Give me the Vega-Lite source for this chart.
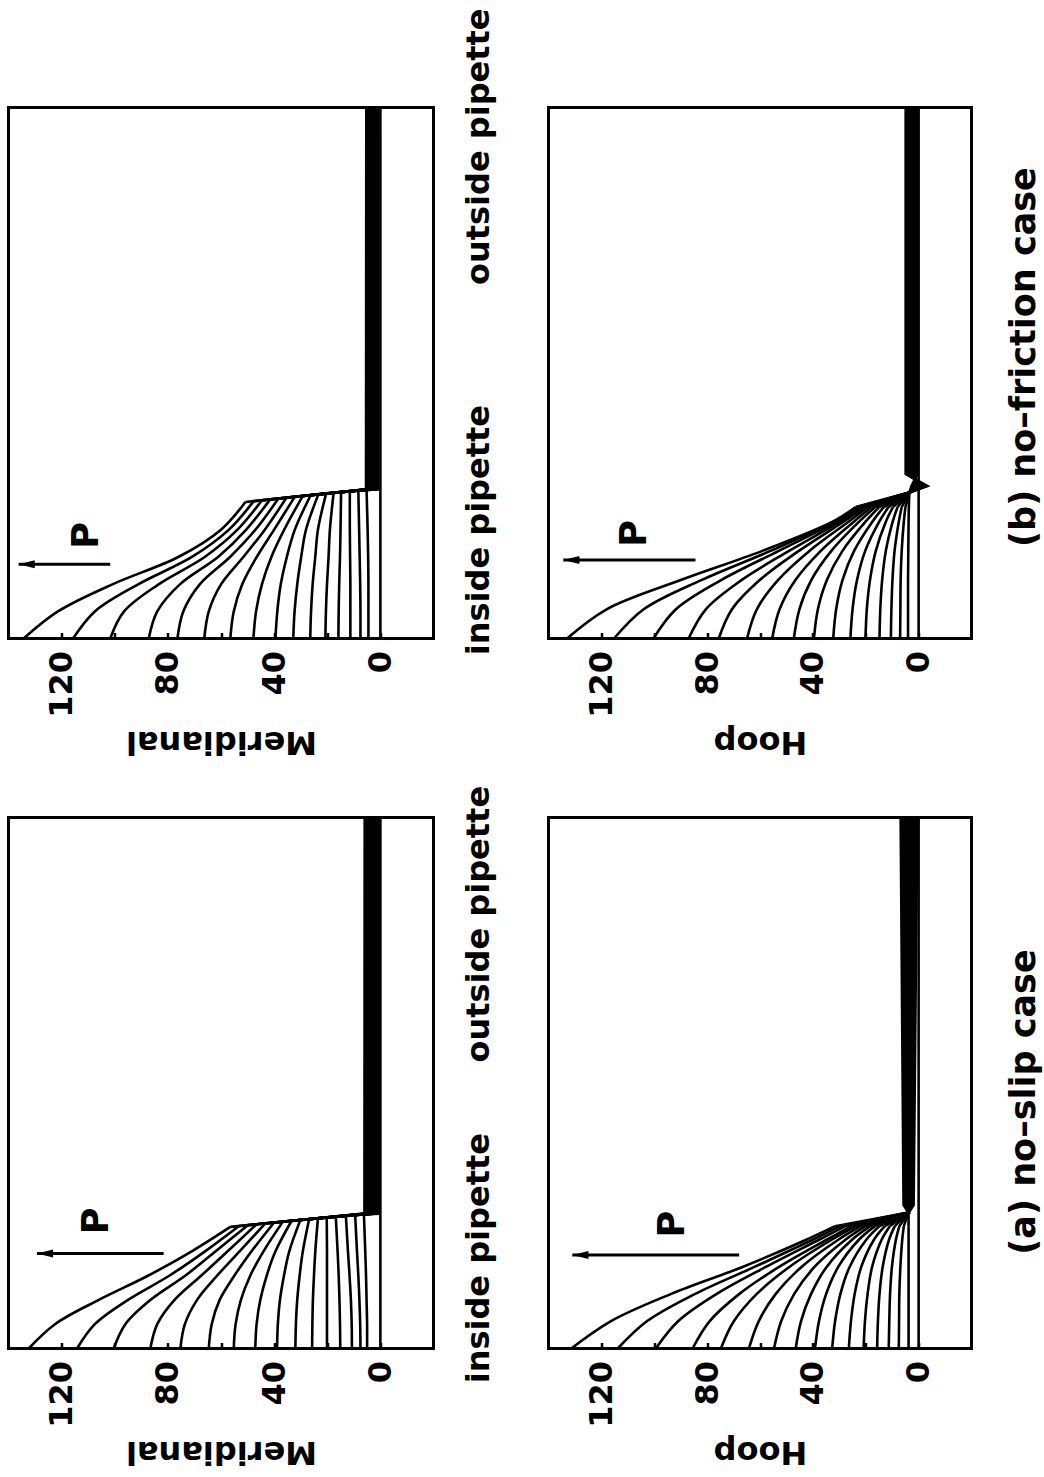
{
  "$schema": "https://vega.github.io/schema/vega-lite/v6.json",
  "background": "white",
  "padding": {"left": 6.5, "top": 5.5, "right": 4, "bottom": 4},
  "config": {
    "font": "DejaVu Sans",
    "view": {"stroke": "black", "strokeWidth": 3},
    "axis": {"grid": false, "domain": false, "labelFont": "DejaVu Sans", "labelFontWeight": "bold", "labelFontSize": 32, "labelColor": "black", "labelLimit": 0, "titleFont": "DejaVu Sans", "titleFontWeight": "bold", "titleColor": "black", "titleLimit": 0, "labelFlush": false, "labelOverlap": false, "tickColor": "black"},
    "axisX": {"ticks": true, "tickSize": -6, "tickWidth": 2.5, "labelAngle": 270, "labelAlign": "right", "labelBaseline": "middle", "labelPadding": 18, "titleAngle": 180, "titleBaseline": "alphabetic", "titleAlign": "center", "titleFontSize": 32},
    "axisY": {"ticks": false, "labelAngle": 270, "labelAlign": "center", "labelBaseline": "top", "labelPadding": 30, "labelFontSize": 32, "titleAngle": 270, "titleAlign": "center", "titleBaseline": "top", "titleFontSize": 35}
  },
  "datasets": {
    "arrows": [
      {"p": "bM", "v": 101.7, "v2": 136.2, "s": 0.14},
      {"p": "bH", "v": 84.4, "v2": 134.4, "s": 0.148},
      {"p": "aM", "v": 81.6, "v2": 129.3, "s": 0.179},
      {"p": "aH", "v": 67.9, "v2": 131, "s": 0.176}
    ],
    "marks": [
      {"p": "bM", "v": 110.3, "s": 0.194, "t": "P"},
      {"p": "bH", "v": 107.2, "s": 0.198, "t": "P"},
      {"p": "aM", "v": 106.7, "s": 0.24, "t": "P"},
      {"p": "aH", "v": 92.8, "s": 0.234, "t": "P"}
    ],
    "curves": [
      {"p":"bM","c":0,"g":"o","s":0,"v":0},{"p":"bM","c":0,"g":"o","s":1,"v":0},
      {"p":"bM","c":1,"g":"i","s":0,"v":134.3},{"p":"bM","c":1,"g":"i","s":0.051,"v":121.4},{"p":"bM","c":1,"g":"i","s":0.102,"v":100.9},{"p":"bM","c":1,"g":"i","s":0.154,"v":75.9},{"p":"bM","c":1,"g":"i","s":0.205,"v":60},{"p":"bM","c":1,"g":"i","s":0.257,"v":50.8},
      {"p":"bM","c":1,"g":"o","s":0.257,"v":50.8},{"p":"bM","c":1,"g":"o","s":0.281,"v":5.4},{"p":"bM","c":1,"g":"o","s":1,"v":5.3},
      {"p":"bM","c":2,"g":"i","s":0,"v":115.7},{"p":"bM","c":2,"g":"i","s":0.051,"v":107.5},{"p":"bM","c":2,"g":"i","s":0.102,"v":91.2},{"p":"bM","c":2,"g":"i","s":0.154,"v":70.8},{"p":"bM","c":2,"g":"i","s":0.205,"v":57},{"p":"bM","c":2,"g":"i","s":0.2587,"v":47.7},
      {"p":"bM","c":2,"g":"o","s":0.2587,"v":47.7},{"p":"bM","c":2,"g":"o","s":0.281,"v":5.1},{"p":"bM","c":2,"g":"o","s":1,"v":5},
      {"p":"bM","c":3,"g":"i","s":0,"v":101.7},{"p":"bM","c":3,"g":"i","s":0.051,"v":96.5},{"p":"bM","c":3,"g":"i","s":0.102,"v":83.5},{"p":"bM","c":3,"g":"i","s":0.154,"v":66},{"p":"bM","c":3,"g":"i","s":0.205,"v":53.8},{"p":"bM","c":3,"g":"i","s":0.2604,"v":44.6},
      {"p":"bM","c":3,"g":"o","s":0.2604,"v":44.6},{"p":"bM","c":3,"g":"o","s":0.281,"v":4.8},{"p":"bM","c":3,"g":"o","s":1,"v":4.7},
      {"p":"bM","c":4,"g":"i","s":0,"v":87.2},{"p":"bM","c":4,"g":"i","s":0.051,"v":84},{"p":"bM","c":4,"g":"i","s":0.102,"v":75.5},{"p":"bM","c":4,"g":"i","s":0.154,"v":61},{"p":"bM","c":4,"g":"i","s":0.205,"v":50.5},{"p":"bM","c":4,"g":"i","s":0.262,"v":41.5},
      {"p":"bM","c":4,"g":"o","s":0.262,"v":41.5},{"p":"bM","c":4,"g":"o","s":0.281,"v":4.5},{"p":"bM","c":4,"g":"o","s":1,"v":4.4},
      {"p":"bM","c":5,"g":"i","s":0,"v":76.4},{"p":"bM","c":5,"g":"i","s":0.051,"v":74.2},{"p":"bM","c":5,"g":"i","s":0.102,"v":68},{"p":"bM","c":5,"g":"i","s":0.154,"v":56.5},{"p":"bM","c":5,"g":"i","s":0.205,"v":47},{"p":"bM","c":5,"g":"i","s":0.2637,"v":38.4},
      {"p":"bM","c":5,"g":"o","s":0.2637,"v":38.4},{"p":"bM","c":5,"g":"o","s":0.281,"v":4.2},{"p":"bM","c":5,"g":"o","s":1,"v":4.1},
      {"p":"bM","c":6,"g":"i","s":0,"v":66.3},{"p":"bM","c":6,"g":"i","s":0.051,"v":64.6},{"p":"bM","c":6,"g":"i","s":0.102,"v":60},{"p":"bM","c":6,"g":"i","s":0.154,"v":51.5},{"p":"bM","c":6,"g":"i","s":0.205,"v":43.5},{"p":"bM","c":6,"g":"i","s":0.2654,"v":35.3},
      {"p":"bM","c":6,"g":"o","s":0.2654,"v":35.3},{"p":"bM","c":6,"g":"o","s":0.281,"v":3.9},{"p":"bM","c":6,"g":"o","s":1,"v":3.8},
      {"p":"bM","c":7,"g":"i","s":0,"v":56.5},{"p":"bM","c":7,"g":"i","s":0.051,"v":55.2},{"p":"bM","c":7,"g":"i","s":0.102,"v":52},{"p":"bM","c":7,"g":"i","s":0.154,"v":46.5},{"p":"bM","c":7,"g":"i","s":0.205,"v":40},{"p":"bM","c":7,"g":"i","s":0.2671,"v":32.2},
      {"p":"bM","c":7,"g":"o","s":0.2671,"v":32.2},{"p":"bM","c":7,"g":"o","s":0.281,"v":3.6},{"p":"bM","c":7,"g":"o","s":1,"v":3.5},
      {"p":"bM","c":8,"g":"i","s":0,"v":47.8},{"p":"bM","c":8,"g":"i","s":0.051,"v":46.8},{"p":"bM","c":8,"g":"i","s":0.102,"v":44.6},{"p":"bM","c":8,"g":"i","s":0.154,"v":41},{"p":"bM","c":8,"g":"i","s":0.205,"v":36.2},{"p":"bM","c":8,"g":"i","s":0.2687,"v":29.2},
      {"p":"bM","c":8,"g":"o","s":0.2687,"v":29.2},{"p":"bM","c":8,"g":"o","s":0.281,"v":3.3},{"p":"bM","c":8,"g":"o","s":1,"v":3.2},
      {"p":"bM","c":9,"g":"i","s":0,"v":39.5},{"p":"bM","c":9,"g":"i","s":0.051,"v":38.8},{"p":"bM","c":9,"g":"i","s":0.102,"v":37.5},{"p":"bM","c":9,"g":"i","s":0.154,"v":35.2},{"p":"bM","c":9,"g":"i","s":0.205,"v":32.2},{"p":"bM","c":9,"g":"i","s":0.2703,"v":26.2},
      {"p":"bM","c":9,"g":"o","s":0.2703,"v":26.2},{"p":"bM","c":9,"g":"o","s":0.281,"v":3},{"p":"bM","c":9,"g":"o","s":1,"v":2.9},
      {"p":"bM","c":10,"g":"i","s":0,"v":32.8},{"p":"bM","c":10,"g":"i","s":0.051,"v":32.3},{"p":"bM","c":10,"g":"i","s":0.102,"v":31.3},{"p":"bM","c":10,"g":"i","s":0.154,"v":29.8},{"p":"bM","c":10,"g":"i","s":0.205,"v":28},{"p":"bM","c":10,"g":"i","s":0.2719,"v":23.3},
      {"p":"bM","c":10,"g":"o","s":0.2719,"v":23.3},{"p":"bM","c":10,"g":"o","s":0.281,"v":2.7},{"p":"bM","c":10,"g":"o","s":1,"v":2.6},
      {"p":"bM","c":11,"g":"i","s":0,"v":26.4},{"p":"bM","c":11,"g":"i","s":0.051,"v":26.1},{"p":"bM","c":11,"g":"i","s":0.102,"v":25.5},{"p":"bM","c":11,"g":"i","s":0.154,"v":24.5},{"p":"bM","c":11,"g":"i","s":0.205,"v":23.5},{"p":"bM","c":11,"g":"i","s":0.2734,"v":20.4},
      {"p":"bM","c":11,"g":"o","s":0.2734,"v":20.4},{"p":"bM","c":11,"g":"o","s":0.281,"v":2.4},{"p":"bM","c":11,"g":"o","s":1,"v":2.3},
      {"p":"bM","c":12,"g":"i","s":0,"v":20.7},{"p":"bM","c":12,"g":"i","s":0.051,"v":20.5},{"p":"bM","c":12,"g":"i","s":0.102,"v":20.1},{"p":"bM","c":12,"g":"i","s":0.154,"v":19.5},{"p":"bM","c":12,"g":"i","s":0.205,"v":19},{"p":"bM","c":12,"g":"i","s":0.2749,"v":17.6},
      {"p":"bM","c":12,"g":"o","s":0.2749,"v":17.6},{"p":"bM","c":12,"g":"o","s":0.281,"v":2.1},{"p":"bM","c":12,"g":"o","s":1,"v":2},
      {"p":"bM","c":13,"g":"i","s":0,"v":15.8},{"p":"bM","c":13,"g":"i","s":0.051,"v":15.7},{"p":"bM","c":13,"g":"i","s":0.102,"v":15.5},{"p":"bM","c":13,"g":"i","s":0.154,"v":15.2},{"p":"bM","c":13,"g":"i","s":0.205,"v":15},{"p":"bM","c":13,"g":"i","s":0.2765,"v":14.8},
      {"p":"bM","c":13,"g":"o","s":0.2765,"v":14.8},{"p":"bM","c":13,"g":"o","s":0.281,"v":1.8},{"p":"bM","c":13,"g":"o","s":1,"v":1.7},
      {"p":"bM","c":14,"g":"i","s":0,"v":11.3},{"p":"bM","c":14,"g":"i","s":0.051,"v":11.3},{"p":"bM","c":14,"g":"i","s":0.102,"v":11.3},{"p":"bM","c":14,"g":"i","s":0.154,"v":11.4},{"p":"bM","c":14,"g":"i","s":0.205,"v":11.5},{"p":"bM","c":14,"g":"i","s":0.2782,"v":11.5},
      {"p":"bM","c":14,"g":"o","s":0.2782,"v":11.5},{"p":"bM","c":14,"g":"o","s":0.281,"v":1.5},{"p":"bM","c":14,"g":"o","s":1,"v":1.4},
      {"p":"bM","c":15,"g":"i","s":0,"v":7.5},{"p":"bM","c":15,"g":"i","s":0.051,"v":7.5},{"p":"bM","c":15,"g":"i","s":0.102,"v":7.6},{"p":"bM","c":15,"g":"i","s":0.154,"v":7.8},{"p":"bM","c":15,"g":"i","s":0.205,"v":8},{"p":"bM","c":15,"g":"i","s":0.2795,"v":8.3},
      {"p":"bM","c":15,"g":"o","s":0.2795,"v":8.3},{"p":"bM","c":15,"g":"o","s":0.281,"v":1.2},{"p":"bM","c":15,"g":"o","s":1,"v":1.1},
      {"p":"bM","c":16,"g":"i","s":0,"v":4.5},{"p":"bM","c":16,"g":"i","s":0.051,"v":4.5},{"p":"bM","c":16,"g":"i","s":0.102,"v":4.5},{"p":"bM","c":16,"g":"i","s":0.154,"v":4.6},{"p":"bM","c":16,"g":"i","s":0.205,"v":4.8},{"p":"bM","c":16,"g":"i","s":0.2795,"v":5.2},
      {"p":"bM","c":16,"g":"o","s":0.2795,"v":5.2},{"p":"bM","c":16,"g":"o","s":0.281,"v":0.9},{"p":"bM","c":16,"g":"o","s":1,"v":0.8},

      {"p":"bH","c":0,"g":"o","s":0,"v":0},{"p":"bH","c":0,"g":"o","s":1,"v":0},
      {"p":"bH","c":1,"g":"i","s":0,"v":133},{"p":"bH","c":1,"g":"i","s":0.055,"v":118},{"p":"bH","c":1,"g":"i","s":0.11,"v":90},{"p":"bH","c":1,"g":"i","s":0.165,"v":59.1},{"p":"bH","c":1,"g":"i","s":0.22,"v":32.5},{"p":"bH","c":1,"g":"i","s":0.2475,"v":23.8},
      {"p":"bH","c":1,"g":"o","s":0.2475,"v":23.8},{"p":"bH","c":1,"g":"o","s":0.275,"v":3.5},{"p":"bH","c":1,"g":"o","s":0.287,"v":-3.3},{"p":"bH","c":1,"g":"o","s":0.31,"v":4.9},{"p":"bH","c":1,"g":"o","s":1,"v":4.9},
      {"p":"bH","c":2,"g":"i","s":0,"v":115.2},{"p":"bH","c":2,"g":"i","s":0.055,"v":104},{"p":"bH","c":2,"g":"i","s":0.11,"v":82.2},{"p":"bH","c":2,"g":"i","s":0.165,"v":56},{"p":"bH","c":2,"g":"i","s":0.22,"v":32},{"p":"bH","c":2,"g":"i","s":0.2475,"v":23},
      {"p":"bH","c":2,"g":"o","s":0.2475,"v":23},{"p":"bH","c":2,"g":"o","s":0.275,"v":3.5},{"p":"bH","c":2,"g":"o","s":0.287,"v":-2.9},{"p":"bH","c":2,"g":"o","s":0.31,"v":4.6},{"p":"bH","c":2,"g":"o","s":1,"v":4.6},
      {"p":"bH","c":3,"g":"i","s":0,"v":100.3},{"p":"bH","c":3,"g":"i","s":0.055,"v":91.8},{"p":"bH","c":3,"g":"i","s":0.11,"v":74.7},{"p":"bH","c":3,"g":"i","s":0.165,"v":52.9},{"p":"bH","c":3,"g":"i","s":0.22,"v":31.1},{"p":"bH","c":3,"g":"i","s":0.2475,"v":22.4},
      {"p":"bH","c":3,"g":"o","s":0.2475,"v":22.4},{"p":"bH","c":3,"g":"o","s":0.275,"v":3.5},{"p":"bH","c":3,"g":"o","s":0.287,"v":-2.5},{"p":"bH","c":3,"g":"o","s":0.31,"v":4.3},{"p":"bH","c":3,"g":"o","s":1,"v":4.3},
      {"p":"bH","c":4,"g":"i","s":0,"v":87},{"p":"bH","c":4,"g":"i","s":0.055,"v":80.5},{"p":"bH","c":4,"g":"i","s":0.11,"v":67},{"p":"bH","c":4,"g":"i","s":0.165,"v":49},{"p":"bH","c":4,"g":"i","s":0.22,"v":29.8},{"p":"bH","c":4,"g":"i","s":0.2475,"v":21.5},
      {"p":"bH","c":4,"g":"o","s":0.2475,"v":21.5},{"p":"bH","c":4,"g":"o","s":0.275,"v":3.5},{"p":"bH","c":4,"g":"o","s":0.287,"v":-2.1},{"p":"bH","c":4,"g":"o","s":0.31,"v":4},{"p":"bH","c":4,"g":"o","s":1,"v":4},
      {"p":"bH","c":5,"g":"i","s":0,"v":75.6},{"p":"bH","c":5,"g":"i","s":0.055,"v":70.6},{"p":"bH","c":5,"g":"i","s":0.11,"v":60.1},{"p":"bH","c":5,"g":"i","s":0.165,"v":45.3},{"p":"bH","c":5,"g":"i","s":0.22,"v":28.4},{"p":"bH","c":5,"g":"i","s":0.2475,"v":20.4},
      {"p":"bH","c":5,"g":"o","s":0.2475,"v":20.4},{"p":"bH","c":5,"g":"o","s":0.275,"v":3.5},{"p":"bH","c":5,"g":"o","s":0.287,"v":-1.7},{"p":"bH","c":5,"g":"o","s":0.31,"v":3.7},{"p":"bH","c":5,"g":"o","s":1,"v":3.7},
      {"p":"bH","c":6,"g":"i","s":0,"v":64.9},{"p":"bH","c":6,"g":"i","s":0.055,"v":61.2},{"p":"bH","c":6,"g":"i","s":0.11,"v":53.2},{"p":"bH","c":6,"g":"i","s":0.165,"v":41.3},{"p":"bH","c":6,"g":"i","s":0.22,"v":26.5},{"p":"bH","c":6,"g":"i","s":0.2475,"v":19.2},
      {"p":"bH","c":6,"g":"o","s":0.2475,"v":19.2},{"p":"bH","c":6,"g":"o","s":0.275,"v":3.5},{"p":"bH","c":6,"g":"o","s":0.287,"v":-1.3},{"p":"bH","c":6,"g":"o","s":0.31,"v":3.4},{"p":"bH","c":6,"g":"o","s":1,"v":3.4},
      {"p":"bH","c":7,"g":"i","s":0,"v":55.4},{"p":"bH","c":7,"g":"i","s":0.055,"v":52.6},{"p":"bH","c":7,"g":"i","s":0.11,"v":46.6},{"p":"bH","c":7,"g":"i","s":0.165,"v":37},{"p":"bH","c":7,"g":"i","s":0.22,"v":24.5},{"p":"bH","c":7,"g":"i","s":0.2475,"v":17.8},
      {"p":"bH","c":7,"g":"o","s":0.2475,"v":17.8},{"p":"bH","c":7,"g":"o","s":0.275,"v":3.5},{"p":"bH","c":7,"g":"o","s":0.287,"v":-0.9},{"p":"bH","c":7,"g":"o","s":0.31,"v":3.1},{"p":"bH","c":7,"g":"o","s":1,"v":3.1},
      {"p":"bH","c":8,"g":"i","s":0,"v":47.2},{"p":"bH","c":8,"g":"i","s":0.055,"v":45.1},{"p":"bH","c":8,"g":"i","s":0.11,"v":40.6},{"p":"bH","c":8,"g":"i","s":0.165,"v":33},{"p":"bH","c":8,"g":"i","s":0.22,"v":22.5},{"p":"bH","c":8,"g":"i","s":0.2475,"v":16.4},
      {"p":"bH","c":8,"g":"o","s":0.2475,"v":16.4},{"p":"bH","c":8,"g":"o","s":0.275,"v":3.5},{"p":"bH","c":8,"g":"o","s":0.287,"v":-0.5},{"p":"bH","c":8,"g":"o","s":0.31,"v":2.8},{"p":"bH","c":8,"g":"o","s":1,"v":2.8},
      {"p":"bH","c":9,"g":"i","s":0,"v":39.6},{"p":"bH","c":9,"g":"i","s":0.055,"v":38.1},{"p":"bH","c":9,"g":"i","s":0.11,"v":34.7},{"p":"bH","c":9,"g":"i","s":0.165,"v":28.8},{"p":"bH","c":9,"g":"i","s":0.22,"v":20.1},{"p":"bH","c":9,"g":"i","s":0.2475,"v":14.9},
      {"p":"bH","c":9,"g":"o","s":0.2475,"v":14.9},{"p":"bH","c":9,"g":"o","s":0.275,"v":3.5},{"p":"bH","c":9,"g":"o","s":0.287,"v":-0.1},{"p":"bH","c":9,"g":"o","s":0.31,"v":2.5},{"p":"bH","c":9,"g":"o","s":1,"v":2.5},
      {"p":"bH","c":10,"g":"i","s":0,"v":32.3},{"p":"bH","c":10,"g":"i","s":0.055,"v":31.2},{"p":"bH","c":10,"g":"i","s":0.11,"v":28.8},{"p":"bH","c":10,"g":"i","s":0.165,"v":24.4},{"p":"bH","c":10,"g":"i","s":0.22,"v":17.5},{"p":"bH","c":10,"g":"i","s":0.2475,"v":13.2},
      {"p":"bH","c":10,"g":"o","s":0.2475,"v":13.2},{"p":"bH","c":10,"g":"o","s":0.275,"v":3.5},{"p":"bH","c":10,"g":"o","s":0.287,"v":0.3},{"p":"bH","c":10,"g":"o","s":0.31,"v":2.2},{"p":"bH","c":10,"g":"o","s":1,"v":2.2},
      {"p":"bH","c":11,"g":"i","s":0,"v":25.8},{"p":"bH","c":11,"g":"i","s":0.055,"v":25},{"p":"bH","c":11,"g":"i","s":0.11,"v":23.3},{"p":"bH","c":11,"g":"i","s":0.165,"v":20.2},{"p":"bH","c":11,"g":"i","s":0.22,"v":14.9},{"p":"bH","c":11,"g":"i","s":0.2475,"v":11.4},
      {"p":"bH","c":11,"g":"o","s":0.2475,"v":11.4},{"p":"bH","c":11,"g":"o","s":0.275,"v":3.5},{"p":"bH","c":11,"g":"o","s":0.287,"v":0.7},{"p":"bH","c":11,"g":"o","s":0.31,"v":1.9},{"p":"bH","c":11,"g":"o","s":1,"v":1.9},
      {"p":"bH","c":12,"g":"i","s":0,"v":20.1},{"p":"bH","c":12,"g":"i","s":0.055,"v":19.6},{"p":"bH","c":12,"g":"i","s":0.11,"v":18.4},{"p":"bH","c":12,"g":"i","s":0.165,"v":16.2},{"p":"bH","c":12,"g":"i","s":0.22,"v":12.4},{"p":"bH","c":12,"g":"i","s":0.2475,"v":9.7},
      {"p":"bH","c":12,"g":"o","s":0.2475,"v":9.7},{"p":"bH","c":12,"g":"o","s":0.275,"v":3.5},{"p":"bH","c":12,"g":"o","s":0.287,"v":1.1},{"p":"bH","c":12,"g":"o","s":0.31,"v":1.6},{"p":"bH","c":12,"g":"o","s":1,"v":1.6},
      {"p":"bH","c":13,"g":"i","s":0,"v":14.8},{"p":"bH","c":13,"g":"i","s":0.055,"v":14.5},{"p":"bH","c":13,"g":"i","s":0.11,"v":13.8},{"p":"bH","c":13,"g":"i","s":0.165,"v":12.4},{"p":"bH","c":13,"g":"i","s":0.22,"v":9.8},{"p":"bH","c":13,"g":"i","s":0.2475,"v":8},
      {"p":"bH","c":13,"g":"o","s":0.2475,"v":8},{"p":"bH","c":13,"g":"o","s":0.275,"v":3.5},{"p":"bH","c":13,"g":"o","s":0.287,"v":1.5},{"p":"bH","c":13,"g":"o","s":0.31,"v":1.3},{"p":"bH","c":13,"g":"o","s":1,"v":1.3},
      {"p":"bH","c":14,"g":"i","s":0,"v":10.5},{"p":"bH","c":14,"g":"i","s":0.055,"v":10.3},{"p":"bH","c":14,"g":"i","s":0.11,"v":9.9},{"p":"bH","c":14,"g":"i","s":0.165,"v":9.1},{"p":"bH","c":14,"g":"i","s":0.22,"v":7.5},{"p":"bH","c":14,"g":"i","s":0.2475,"v":6.4},
      {"p":"bH","c":14,"g":"o","s":0.2475,"v":6.4},{"p":"bH","c":14,"g":"o","s":0.275,"v":3.5},{"p":"bH","c":14,"g":"o","s":0.287,"v":1.9},{"p":"bH","c":14,"g":"o","s":0.31,"v":1},{"p":"bH","c":14,"g":"o","s":1,"v":1},
      {"p":"bH","c":15,"g":"i","s":0,"v":7},{"p":"bH","c":15,"g":"i","s":0.055,"v":6.9},{"p":"bH","c":15,"g":"i","s":0.11,"v":6.8},{"p":"bH","c":15,"g":"i","s":0.165,"v":6.4},{"p":"bH","c":15,"g":"i","s":0.22,"v":5.6},{"p":"bH","c":15,"g":"i","s":0.2475,"v":5},
      {"p":"bH","c":15,"g":"o","s":0.2475,"v":5},{"p":"bH","c":15,"g":"o","s":0.275,"v":3.5},{"p":"bH","c":15,"g":"o","s":0.287,"v":2.3},{"p":"bH","c":15,"g":"o","s":0.31,"v":0.7},{"p":"bH","c":15,"g":"o","s":1,"v":0.7},
      {"p":"bH","c":16,"g":"i","s":0,"v":4},{"p":"bH","c":16,"g":"i","s":0.055,"v":4},{"p":"bH","c":16,"g":"i","s":0.11,"v":4},{"p":"bH","c":16,"g":"i","s":0.165,"v":3.9},{"p":"bH","c":16,"g":"i","s":0.22,"v":3.8},{"p":"bH","c":16,"g":"i","s":0.2475,"v":3.7},
      {"p":"bH","c":16,"g":"o","s":0.2475,"v":3.7},{"p":"bH","c":16,"g":"o","s":0.275,"v":3.5},{"p":"bH","c":16,"g":"o","s":0.287,"v":2.7},{"p":"bH","c":16,"g":"o","s":0.31,"v":0.4},{"p":"bH","c":16,"g":"o","s":1,"v":0.4},

      {"p":"aM","c":0,"g":"o","s":0,"v":0},{"p":"aM","c":0,"g":"o","s":1,"v":0},
      {"p":"aM","c":1,"g":"i","s":0,"v":132.4},{"p":"aM","c":1,"g":"i","s":0.0458,"v":122.5},{"p":"aM","c":1,"g":"i","s":0.0916,"v":106},{"p":"aM","c":1,"g":"i","s":0.137,"v":87.5},{"p":"aM","c":1,"g":"i","s":0.183,"v":71},{"p":"aM","c":1,"g":"i","s":0.229,"v":56.5},
      {"p":"aM","c":1,"g":"o","s":0.229,"v":56.5},{"p":"aM","c":1,"g":"o","s":0.254,"v":6},{"p":"aM","c":1,"g":"o","s":1,"v":5.9},
      {"p":"aM","c":2,"g":"i","s":0,"v":114.2},{"p":"aM","c":2,"g":"i","s":0.0458,"v":107.5},{"p":"aM","c":2,"g":"i","s":0.0916,"v":95},{"p":"aM","c":2,"g":"i","s":0.137,"v":79.5},{"p":"aM","c":2,"g":"i","s":0.183,"v":66},{"p":"aM","c":2,"g":"i","s":0.2307,"v":53.2},
      {"p":"aM","c":2,"g":"o","s":0.2307,"v":53.2},{"p":"aM","c":2,"g":"o","s":0.254,"v":5.6},{"p":"aM","c":2,"g":"o","s":1,"v":5.5},
      {"p":"aM","c":3,"g":"i","s":0,"v":100.4},{"p":"aM","c":3,"g":"i","s":0.0458,"v":96},{"p":"aM","c":3,"g":"i","s":0.0916,"v":86.5},{"p":"aM","c":3,"g":"i","s":0.137,"v":73.5},{"p":"aM","c":3,"g":"i","s":0.183,"v":62},{"p":"aM","c":3,"g":"i","s":0.2323,"v":49.9},
      {"p":"aM","c":3,"g":"o","s":0.2323,"v":49.9},{"p":"aM","c":3,"g":"o","s":0.254,"v":5.3},{"p":"aM","c":3,"g":"o","s":1,"v":5.2},
      {"p":"aM","c":4,"g":"i","s":0,"v":86.6},{"p":"aM","c":4,"g":"i","s":0.0458,"v":84},{"p":"aM","c":4,"g":"i","s":0.0916,"v":77.5},{"p":"aM","c":4,"g":"i","s":0.137,"v":67.5},{"p":"aM","c":4,"g":"i","s":0.183,"v":57.5},{"p":"aM","c":4,"g":"i","s":0.234,"v":46.6},
      {"p":"aM","c":4,"g":"o","s":0.234,"v":46.6},{"p":"aM","c":4,"g":"o","s":0.254,"v":4.9},{"p":"aM","c":4,"g":"o","s":1,"v":4.8},
      {"p":"aM","c":5,"g":"i","s":0,"v":75.3},{"p":"aM","c":5,"g":"i","s":0.0458,"v":73.6},{"p":"aM","c":5,"g":"i","s":0.0916,"v":69},{"p":"aM","c":5,"g":"i","s":0.137,"v":61.5},{"p":"aM","c":5,"g":"i","s":0.183,"v":53},{"p":"aM","c":5,"g":"i","s":0.2356,"v":43.3},
      {"p":"aM","c":5,"g":"o","s":0.2356,"v":43.3},{"p":"aM","c":5,"g":"o","s":0.254,"v":4.5},{"p":"aM","c":5,"g":"o","s":1,"v":4.4},
      {"p":"aM","c":6,"g":"i","s":0,"v":64.6},{"p":"aM","c":6,"g":"i","s":0.0458,"v":63.5},{"p":"aM","c":6,"g":"i","s":0.0916,"v":60.5},{"p":"aM","c":6,"g":"i","s":0.137,"v":55},{"p":"aM","c":6,"g":"i","s":0.183,"v":48.5},{"p":"aM","c":6,"g":"i","s":0.2373,"v":40},
      {"p":"aM","c":6,"g":"o","s":0.2373,"v":40},{"p":"aM","c":6,"g":"o","s":0.254,"v":4.2},{"p":"aM","c":6,"g":"o","s":1,"v":4.1},
      {"p":"aM","c":7,"g":"i","s":0,"v":55.2},{"p":"aM","c":7,"g":"i","s":0.0458,"v":54.5},{"p":"aM","c":7,"g":"i","s":0.0916,"v":52.5},{"p":"aM","c":7,"g":"i","s":0.137,"v":49},{"p":"aM","c":7,"g":"i","s":0.183,"v":44},{"p":"aM","c":7,"g":"i","s":0.2389,"v":36.7},
      {"p":"aM","c":7,"g":"o","s":0.2389,"v":36.7},{"p":"aM","c":7,"g":"o","s":0.254,"v":3.8},{"p":"aM","c":7,"g":"o","s":1,"v":3.7},
      {"p":"aM","c":8,"g":"i","s":0,"v":47.1},{"p":"aM","c":8,"g":"i","s":0.0458,"v":46.6},{"p":"aM","c":8,"g":"i","s":0.0916,"v":45.2},{"p":"aM","c":8,"g":"i","s":0.137,"v":42.8},{"p":"aM","c":8,"g":"i","s":0.183,"v":39.5},{"p":"aM","c":8,"g":"i","s":0.2406,"v":33.4},
      {"p":"aM","c":8,"g":"o","s":0.2406,"v":33.4},{"p":"aM","c":8,"g":"o","s":0.254,"v":3.4},{"p":"aM","c":8,"g":"o","s":1,"v":3.3},
      {"p":"aM","c":9,"g":"i","s":0,"v":38.9},{"p":"aM","c":9,"g":"i","s":0.0458,"v":38.6},{"p":"aM","c":9,"g":"i","s":0.0916,"v":37.8},{"p":"aM","c":9,"g":"i","s":0.137,"v":36.3},{"p":"aM","c":9,"g":"i","s":0.183,"v":34.3},{"p":"aM","c":9,"g":"i","s":0.2422,"v":30.1},
      {"p":"aM","c":9,"g":"o","s":0.2422,"v":30.1},{"p":"aM","c":9,"g":"o","s":0.254,"v":3},{"p":"aM","c":9,"g":"o","s":1,"v":2.9},
      {"p":"aM","c":10,"g":"i","s":0,"v":32},{"p":"aM","c":10,"g":"i","s":0.0458,"v":31.8},{"p":"aM","c":10,"g":"i","s":0.0916,"v":31.3},{"p":"aM","c":10,"g":"i","s":0.137,"v":30.4},{"p":"aM","c":10,"g":"i","s":0.183,"v":29.2},{"p":"aM","c":10,"g":"i","s":0.2439,"v":26.8},
      {"p":"aM","c":10,"g":"o","s":0.2439,"v":26.8},{"p":"aM","c":10,"g":"o","s":0.254,"v":2.7},{"p":"aM","c":10,"g":"o","s":1,"v":2.6},
      {"p":"aM","c":11,"g":"i","s":0,"v":25.7},{"p":"aM","c":11,"g":"i","s":0.0458,"v":25.6},{"p":"aM","c":11,"g":"i","s":0.0916,"v":25.4},{"p":"aM","c":11,"g":"i","s":0.137,"v":25},{"p":"aM","c":11,"g":"i","s":0.183,"v":24.5},{"p":"aM","c":11,"g":"i","s":0.2455,"v":23.5},
      {"p":"aM","c":11,"g":"o","s":0.2455,"v":23.5},{"p":"aM","c":11,"g":"o","s":0.254,"v":2.3},{"p":"aM","c":11,"g":"o","s":1,"v":2.2},
      {"p":"aM","c":12,"g":"i","s":0,"v":20.1},{"p":"aM","c":12,"g":"i","s":0.0458,"v":20.1},{"p":"aM","c":12,"g":"i","s":0.0916,"v":20.1},{"p":"aM","c":12,"g":"i","s":0.137,"v":20.1},{"p":"aM","c":12,"g":"i","s":0.183,"v":20.1},{"p":"aM","c":12,"g":"i","s":0.2472,"v":20.2},
      {"p":"aM","c":12,"g":"o","s":0.2472,"v":20.2},{"p":"aM","c":12,"g":"o","s":0.254,"v":1.9},{"p":"aM","c":12,"g":"o","s":1,"v":1.8},
      {"p":"aM","c":13,"g":"i","s":0,"v":15.1},{"p":"aM","c":13,"g":"i","s":0.0458,"v":15.2},{"p":"aM","c":13,"g":"i","s":0.0916,"v":15.4},{"p":"aM","c":13,"g":"i","s":0.137,"v":15.7},{"p":"aM","c":13,"g":"i","s":0.183,"v":16.1},{"p":"aM","c":13,"g":"i","s":0.2489,"v":16.8},
      {"p":"aM","c":13,"g":"o","s":0.2489,"v":16.8},{"p":"aM","c":13,"g":"o","s":0.254,"v":1.6},{"p":"aM","c":13,"g":"o","s":1,"v":1.5},
      {"p":"aM","c":14,"g":"i","s":0,"v":10.7},{"p":"aM","c":14,"g":"i","s":0.0458,"v":10.8},{"p":"aM","c":14,"g":"i","s":0.0916,"v":11.1},{"p":"aM","c":14,"g":"i","s":0.137,"v":11.6},{"p":"aM","c":14,"g":"i","s":0.183,"v":12.2},{"p":"aM","c":14,"g":"i","s":0.2508,"v":13},
      {"p":"aM","c":14,"g":"o","s":0.2508,"v":13},{"p":"aM","c":14,"g":"o","s":0.254,"v":1.2},{"p":"aM","c":14,"g":"o","s":1,"v":1.1},
      {"p":"aM","c":15,"g":"i","s":0,"v":7.5},{"p":"aM","c":15,"g":"i","s":0.0458,"v":7.6},{"p":"aM","c":15,"g":"i","s":0.0916,"v":7.9},{"p":"aM","c":15,"g":"i","s":0.137,"v":8.3},{"p":"aM","c":15,"g":"i","s":0.183,"v":8.8},{"p":"aM","c":15,"g":"i","s":0.2525,"v":9.5},
      {"p":"aM","c":15,"g":"o","s":0.2525,"v":9.5},{"p":"aM","c":15,"g":"o","s":0.254,"v":0.8},{"p":"aM","c":15,"g":"o","s":1,"v":0.7},
      {"p":"aM","c":16,"g":"i","s":0,"v":5},{"p":"aM","c":16,"g":"i","s":0.0458,"v":5},{"p":"aM","c":16,"g":"i","s":0.0916,"v":5.2},{"p":"aM","c":16,"g":"i","s":0.137,"v":5.4},{"p":"aM","c":16,"g":"i","s":0.183,"v":5.7},{"p":"aM","c":16,"g":"i","s":0.2535,"v":6.2},
      {"p":"aM","c":16,"g":"o","s":0.2535,"v":6.2},{"p":"aM","c":16,"g":"o","s":0.254,"v":0.5},{"p":"aM","c":16,"g":"o","s":1,"v":0.4},

      {"p":"aH","c":0,"g":"o","s":0,"v":0},{"p":"aH","c":0,"g":"o","s":1,"v":0},
      {"p":"aH","c":1,"g":"i","s":0,"v":131.4},{"p":"aH","c":1,"g":"i","s":0.0512,"v":116.5},{"p":"aH","c":1,"g":"i","s":0.1024,"v":93.8},{"p":"aH","c":1,"g":"i","s":0.1536,"v":66.6},{"p":"aH","c":1,"g":"i","s":0.2048,"v":42.5},{"p":"aH","c":1,"g":"i","s":0.2304,"v":31.6},
      {"p":"aH","c":1,"g":"o","s":0.2304,"v":31.6},{"p":"aH","c":1,"g":"o","s":0.256,"v":3.8},{"p":"aH","c":1,"g":"o","s":0.27,"v":5.7},{"p":"aH","c":1,"g":"o","s":1,"v":6.8},
      {"p":"aH","c":2,"g":"i","s":0,"v":113.8},{"p":"aH","c":2,"g":"i","s":0.0512,"v":102.8},{"p":"aH","c":2,"g":"i","s":0.1024,"v":84.7},{"p":"aH","c":2,"g":"i","s":0.1536,"v":62.1},{"p":"aH","c":2,"g":"i","s":0.2048,"v":40.1},{"p":"aH","c":2,"g":"i","s":0.2304,"v":29.7},
      {"p":"aH","c":2,"g":"o","s":0.2304,"v":29.7},{"p":"aH","c":2,"g":"o","s":0.256,"v":3.8},{"p":"aH","c":2,"g":"o","s":0.27,"v":5.4},{"p":"aH","c":2,"g":"o","s":1,"v":6.4},
      {"p":"aH","c":3,"g":"i","s":0,"v":99.4},{"p":"aH","c":3,"g":"i","s":0.0512,"v":91},{"p":"aH","c":3,"g":"i","s":0.1024,"v":76.5},{"p":"aH","c":3,"g":"i","s":0.1536,"v":57.8},{"p":"aH","c":3,"g":"i","s":0.2048,"v":37.7},{"p":"aH","c":3,"g":"i","s":0.2304,"v":27.7},
      {"p":"aH","c":3,"g":"o","s":0.2304,"v":27.7},{"p":"aH","c":3,"g":"o","s":0.256,"v":3.8},{"p":"aH","c":3,"g":"o","s":0.27,"v":5.2},{"p":"aH","c":3,"g":"o","s":1,"v":6},
      {"p":"aH","c":4,"g":"i","s":0,"v":85.5},{"p":"aH","c":4,"g":"i","s":0.0512,"v":79.1},{"p":"aH","c":4,"g":"i","s":0.1024,"v":67.9},{"p":"aH","c":4,"g":"i","s":0.1536,"v":52.8},{"p":"aH","c":4,"g":"i","s":0.2048,"v":34.8},{"p":"aH","c":4,"g":"i","s":0.2304,"v":25.5},
      {"p":"aH","c":4,"g":"o","s":0.2304,"v":25.5},{"p":"aH","c":4,"g":"o","s":0.256,"v":3.8},{"p":"aH","c":4,"g":"o","s":0.27,"v":4.9},{"p":"aH","c":4,"g":"o","s":1,"v":5.5},
      {"p":"aH","c":5,"g":"i","s":0,"v":74.8},{"p":"aH","c":5,"g":"i","s":0.0512,"v":69.9},{"p":"aH","c":5,"g":"i","s":0.1024,"v":61.3},{"p":"aH","c":5,"g":"i","s":0.1536,"v":48.9},{"p":"aH","c":5,"g":"i","s":0.2048,"v":32.9},{"p":"aH","c":5,"g":"i","s":0.2304,"v":23.7},
      {"p":"aH","c":5,"g":"o","s":0.2304,"v":23.7},{"p":"aH","c":5,"g":"o","s":0.256,"v":3.8},{"p":"aH","c":5,"g":"o","s":0.27,"v":4.7},{"p":"aH","c":5,"g":"o","s":1,"v":5.1},
      {"p":"aH","c":6,"g":"i","s":0,"v":64.2},{"p":"aH","c":6,"g":"i","s":0.0512,"v":60.5},{"p":"aH","c":6,"g":"i","s":0.1024,"v":54.1},{"p":"aH","c":6,"g":"i","s":0.1536,"v":44.3},{"p":"aH","c":6,"g":"i","s":0.2048,"v":30.4},{"p":"aH","c":6,"g":"i","s":0.2304,"v":21.9},
      {"p":"aH","c":6,"g":"o","s":0.2304,"v":21.9},{"p":"aH","c":6,"g":"o","s":0.256,"v":3.8},{"p":"aH","c":6,"g":"o","s":0.27,"v":4.4},{"p":"aH","c":6,"g":"o","s":1,"v":4.7},
      {"p":"aH","c":7,"g":"i","s":0,"v":54.7},{"p":"aH","c":7,"g":"i","s":0.0512,"v":52},{"p":"aH","c":7,"g":"i","s":0.1024,"v":47.1},{"p":"aH","c":7,"g":"i","s":0.1536,"v":39.4},{"p":"aH","c":7,"g":"i","s":0.2048,"v":27.7},{"p":"aH","c":7,"g":"i","s":0.2304,"v":20.1},
      {"p":"aH","c":7,"g":"o","s":0.2304,"v":20.1},{"p":"aH","c":7,"g":"o","s":0.256,"v":3.8},{"p":"aH","c":7,"g":"o","s":0.27,"v":4.2},{"p":"aH","c":7,"g":"o","s":1,"v":4.3},
      {"p":"aH","c":8,"g":"i","s":0,"v":46.5},{"p":"aH","c":8,"g":"i","s":0.0512,"v":44.5},{"p":"aH","c":8,"g":"i","s":0.1024,"v":40.7},{"p":"aH","c":8,"g":"i","s":0.1536,"v":34.8},{"p":"aH","c":8,"g":"i","s":0.2048,"v":25.2},{"p":"aH","c":8,"g":"i","s":0.2304,"v":18.3},
      {"p":"aH","c":8,"g":"o","s":0.2304,"v":18.3},{"p":"aH","c":8,"g":"o","s":0.256,"v":3.8},{"p":"aH","c":8,"g":"o","s":0.27,"v":3.9},{"p":"aH","c":8,"g":"o","s":1,"v":3.9},
      {"p":"aH","c":9,"g":"i","s":0,"v":39.2},{"p":"aH","c":9,"g":"i","s":0.0512,"v":37.7},{"p":"aH","c":9,"g":"i","s":0.1024,"v":35},{"p":"aH","c":9,"g":"i","s":0.1536,"v":30.4},{"p":"aH","c":9,"g":"i","s":0.2048,"v":22.6},{"p":"aH","c":9,"g":"i","s":0.2304,"v":16.5},
      {"p":"aH","c":9,"g":"o","s":0.2304,"v":16.5},{"p":"aH","c":9,"g":"o","s":0.256,"v":3.8},{"p":"aH","c":9,"g":"o","s":0.27,"v":3.7},{"p":"aH","c":9,"g":"o","s":1,"v":3.4},
      {"p":"aH","c":10,"g":"i","s":0,"v":32.7},{"p":"aH","c":10,"g":"i","s":0.0512,"v":31.6},{"p":"aH","c":10,"g":"i","s":0.1024,"v":29.6},{"p":"aH","c":10,"g":"i","s":0.1536,"v":26.1},{"p":"aH","c":10,"g":"i","s":0.2048,"v":19.8},{"p":"aH","c":10,"g":"i","s":0.2304,"v":14.8},
      {"p":"aH","c":10,"g":"o","s":0.2304,"v":14.8},{"p":"aH","c":10,"g":"o","s":0.256,"v":3.8},{"p":"aH","c":10,"g":"o","s":0.27,"v":3.4},{"p":"aH","c":10,"g":"o","s":1,"v":3},
      {"p":"aH","c":11,"g":"i","s":0,"v":26.4},{"p":"aH","c":11,"g":"i","s":0.0512,"v":25.6},{"p":"aH","c":11,"g":"i","s":0.1024,"v":24.2},{"p":"aH","c":11,"g":"i","s":0.1536,"v":21.7},{"p":"aH","c":11,"g":"i","s":0.2048,"v":16.9},{"p":"aH","c":11,"g":"i","s":0.2304,"v":12.8},
      {"p":"aH","c":11,"g":"o","s":0.2304,"v":12.8},{"p":"aH","c":11,"g":"o","s":0.256,"v":3.8},{"p":"aH","c":11,"g":"o","s":0.27,"v":3.2},{"p":"aH","c":11,"g":"o","s":1,"v":2.6},
      {"p":"aH","c":12,"g":"i","s":0,"v":20.8},{"p":"aH","c":12,"g":"i","s":0.0512,"v":20.3},{"p":"aH","c":12,"g":"i","s":0.1024,"v":19.3},{"p":"aH","c":12,"g":"i","s":0.1536,"v":17.6},{"p":"aH","c":12,"g":"i","s":0.2048,"v":14},{"p":"aH","c":12,"g":"i","s":0.2304,"v":10.9},
      {"p":"aH","c":12,"g":"o","s":0.2304,"v":10.9},{"p":"aH","c":12,"g":"o","s":0.256,"v":3.8},{"p":"aH","c":12,"g":"o","s":0.27,"v":2.9},{"p":"aH","c":12,"g":"o","s":1,"v":2.2},
      {"p":"aH","c":13,"g":"i","s":0,"v":15.7},{"p":"aH","c":13,"g":"i","s":0.0512,"v":15.4},{"p":"aH","c":13,"g":"i","s":0.1024,"v":14.8},{"p":"aH","c":13,"g":"i","s":0.1536,"v":13.6},{"p":"aH","c":13,"g":"i","s":0.2048,"v":11.2},{"p":"aH","c":13,"g":"i","s":0.2304,"v":9},
      {"p":"aH","c":13,"g":"o","s":0.2304,"v":9},{"p":"aH","c":13,"g":"o","s":0.256,"v":3.8},{"p":"aH","c":13,"g":"o","s":0.27,"v":2.7},{"p":"aH","c":13,"g":"o","s":1,"v":1.8},
      {"p":"aH","c":14,"g":"i","s":0,"v":11.3},{"p":"aH","c":14,"g":"i","s":0.0512,"v":11.1},{"p":"aH","c":14,"g":"i","s":0.1024,"v":10.8},{"p":"aH","c":14,"g":"i","s":0.1536,"v":10.1},{"p":"aH","c":14,"g":"i","s":0.2048,"v":8.6},{"p":"aH","c":14,"g":"i","s":0.2304,"v":7.3},
      {"p":"aH","c":14,"g":"o","s":0.2304,"v":7.3},{"p":"aH","c":14,"g":"o","s":0.256,"v":3.8},{"p":"aH","c":14,"g":"o","s":0.27,"v":2.4},{"p":"aH","c":14,"g":"o","s":1,"v":1.3},
      {"p":"aH","c":15,"g":"i","s":0,"v":7.5},{"p":"aH","c":15,"g":"i","s":0.0512,"v":7.4},{"p":"aH","c":15,"g":"i","s":0.1024,"v":7.3},{"p":"aH","c":15,"g":"i","s":0.1536,"v":6.9},{"p":"aH","c":15,"g":"i","s":0.2048,"v":6.2},{"p":"aH","c":15,"g":"i","s":0.2304,"v":5.6},
      {"p":"aH","c":15,"g":"o","s":0.2304,"v":5.6},{"p":"aH","c":15,"g":"o","s":0.256,"v":3.8},{"p":"aH","c":15,"g":"o","s":0.27,"v":2.2},{"p":"aH","c":15,"g":"o","s":1,"v":0.9},
      {"p":"aH","c":16,"g":"i","s":0,"v":3.8},{"p":"aH","c":16,"g":"i","s":0.0512,"v":3.8},{"p":"aH","c":16,"g":"i","s":0.1024,"v":3.8},{"p":"aH","c":16,"g":"i","s":0.1536,"v":3.8},{"p":"aH","c":16,"g":"i","s":0.2048,"v":3.8},{"p":"aH","c":16,"g":"i","s":0.2304,"v":3.8},
      {"p":"aH","c":16,"g":"o","s":0.2304,"v":3.8},{"p":"aH","c":16,"g":"o","s":0.256,"v":3.8},{"p":"aH","c":16,"g":"o","s":0.27,"v":1.9},{"p":"aH","c":16,"g":"o","s":1,"v":0.5}
    ]
  },
  "bounds": "flush",
  "columns": 2,
  "spacing": {"row": 179, "column": 115},
  "concat": [
    {
      "width": 425, "height": 531,
      "encoding": {
        "x": {"field": "v", "type": "quantitative", "scale": {"domain": [-20, 140], "reverse": true, "nice": false, "zero": false},
              "axis": {"title": "Meridianal", "titleY": 93, "values": [0, 20, 40, 60, 80, 100, 120], "labelExpr": "datum.value % 40 === 0 ? datum.label : ''"}},
        "y": {"field": "s", "type": "quantitative", "scale": {"domain": [0, 1], "nice": false, "zero": false},
              "axis": {"orient": "right", "title": null, "values": [0.205, 0.927], "labelExpr": "datum.value < 0.5 ? 'inside pipette' : 'outside pipette'"}}
      },
      "layer": [
        {"data": {"name": "curves"}, "transform": [{"filter": "datum.p === 'bM' && datum.g === 'i'"}],
         "mark": {"type": "line", "interpolate": "catmull-rom", "color": "black", "strokeWidth": 2.6},
         "encoding": {"detail": {"field": "c", "type": "nominal"}, "order": {"field": "s", "type": "quantitative"}}},
        {"data": {"name": "curves"}, "transform": [{"filter": "datum.p === 'bM' && datum.g === 'o'"}],
         "mark": {"type": "line", "color": "black", "strokeWidth": 2.6},
         "encoding": {"detail": {"field": "c", "type": "nominal"}, "order": {"field": "s", "type": "quantitative"}}},
        {"data": {"name": "arrows"}, "transform": [{"filter": "datum.p === 'bM'"}],
         "mark": {"type": "rule", "color": "black", "strokeWidth": 3},
         "encoding": {"x2": {"field": "v2"}}},
        {"data": {"name": "arrows"}, "transform": [{"filter": "datum.p === 'bM'"}],
         "mark": {"type": "point", "shape": "M0,0L2,-0.5L2,0.5Z", "filled": true, "color": "black", "size": 260, "opacity": 1},
         "encoding": {"x": {"field": "v2", "type": "quantitative"}}},
        {"data": {"name": "marks"}, "transform": [{"filter": "datum.p === 'bM'"}],
         "mark": {"type": "text", "font": "DejaVu Sans", "fontWeight": "bold", "fontSize": 37, "angle": 270, "align": "center", "baseline": "middle", "color": "black"},
         "encoding": {"text": {"field": "t"}}}
      ]
    },
    {
      "width": 423, "height": 531,
      "encoding": {
        "x": {"field": "v", "type": "quantitative", "scale": {"domain": [-20, 140], "reverse": true, "nice": false, "zero": false},
              "axis": {"title": "Hoop", "titleY": 93, "values": [0, 20, 40, 60, 80, 100, 120], "labelExpr": "datum.value % 40 === 0 ? datum.label : ''"}},
        "y": {"field": "s", "type": "quantitative", "scale": {"domain": [0, 1], "nice": false, "zero": false},
              "axis": {"orient": "right", "labels": false, "title": "(b) no–friction case", "titleX": 35, "titleY": 249}}
      },
      "layer": [
        {"data": {"name": "curves"}, "transform": [{"filter": "datum.p === 'bH' && datum.g === 'i'"}],
         "mark": {"type": "line", "interpolate": "catmull-rom", "color": "black", "strokeWidth": 2.6},
         "encoding": {"detail": {"field": "c", "type": "nominal"}, "order": {"field": "s", "type": "quantitative"}}},
        {"data": {"name": "curves"}, "transform": [{"filter": "datum.p === 'bH' && datum.g === 'o'"}],
         "mark": {"type": "line", "color": "black", "strokeWidth": 2.6},
         "encoding": {"detail": {"field": "c", "type": "nominal"}, "order": {"field": "s", "type": "quantitative"}}},
        {"data": {"name": "arrows"}, "transform": [{"filter": "datum.p === 'bH'"}],
         "mark": {"type": "rule", "color": "black", "strokeWidth": 3},
         "encoding": {"x2": {"field": "v2"}}},
        {"data": {"name": "arrows"}, "transform": [{"filter": "datum.p === 'bH'"}],
         "mark": {"type": "point", "shape": "M0,0L2,-0.5L2,0.5Z", "filled": true, "color": "black", "size": 260, "opacity": 1},
         "encoding": {"x": {"field": "v2", "type": "quantitative"}}},
        {"data": {"name": "marks"}, "transform": [{"filter": "datum.p === 'bH'"}],
         "mark": {"type": "text", "font": "DejaVu Sans", "fontWeight": "bold", "fontSize": 37, "angle": 270, "align": "center", "baseline": "middle", "color": "black"},
         "encoding": {"text": {"field": "t"}}}
      ]
    },
    {
      "width": 425, "height": 531,
      "encoding": {
        "x": {"field": "v", "type": "quantitative", "scale": {"domain": [-20, 140], "reverse": true, "nice": false, "zero": false},
              "axis": {"title": "Meridianal", "titleY": 93, "values": [0, 20, 40, 60, 80, 100, 120], "labelExpr": "datum.value % 40 === 0 ? datum.label : ''"}},
        "y": {"field": "s", "type": "quantitative", "scale": {"domain": [0, 1], "nice": false, "zero": false},
              "axis": {"orient": "right", "title": null, "values": [0.171, 0.8], "labelExpr": "datum.value < 0.5 ? 'inside pipette' : 'outside pipette'"}}
      },
      "layer": [
        {"data": {"name": "curves"}, "transform": [{"filter": "datum.p === 'aM' && datum.g === 'i'"}],
         "mark": {"type": "line", "interpolate": "catmull-rom", "color": "black", "strokeWidth": 2.6},
         "encoding": {"detail": {"field": "c", "type": "nominal"}, "order": {"field": "s", "type": "quantitative"}}},
        {"data": {"name": "curves"}, "transform": [{"filter": "datum.p === 'aM' && datum.g === 'o'"}],
         "mark": {"type": "line", "color": "black", "strokeWidth": 2.6},
         "encoding": {"detail": {"field": "c", "type": "nominal"}, "order": {"field": "s", "type": "quantitative"}}},
        {"data": {"name": "arrows"}, "transform": [{"filter": "datum.p === 'aM'"}],
         "mark": {"type": "rule", "color": "black", "strokeWidth": 3},
         "encoding": {"x2": {"field": "v2"}}},
        {"data": {"name": "arrows"}, "transform": [{"filter": "datum.p === 'aM'"}],
         "mark": {"type": "point", "shape": "M0,0L2,-0.5L2,0.5Z", "filled": true, "color": "black", "size": 260, "opacity": 1},
         "encoding": {"x": {"field": "v2", "type": "quantitative"}}},
        {"data": {"name": "marks"}, "transform": [{"filter": "datum.p === 'aM'"}],
         "mark": {"type": "text", "font": "DejaVu Sans", "fontWeight": "bold", "fontSize": 37, "angle": 270, "align": "center", "baseline": "middle", "color": "black"},
         "encoding": {"text": {"field": "t"}}}
      ]
    },
    {
      "width": 423, "height": 531,
      "encoding": {
        "x": {"field": "v", "type": "quantitative", "scale": {"domain": [-20, 140], "reverse": true, "nice": false, "zero": false},
              "axis": {"title": "Hoop", "titleY": 93, "values": [0, 20, 40, 60, 80, 100, 120], "labelExpr": "datum.value % 40 === 0 ? datum.label : ''"}},
        "y": {"field": "s", "type": "quantitative", "scale": {"domain": [0, 1], "nice": false, "zero": false},
              "axis": {"orient": "right", "labels": false, "title": "(a) no–slip case", "titleX": 35, "titleY": 284}}
      },
      "layer": [
        {"data": {"name": "curves"}, "transform": [{"filter": "datum.p === 'aH' && datum.g === 'i'"}],
         "mark": {"type": "line", "interpolate": "catmull-rom", "color": "black", "strokeWidth": 2.6},
         "encoding": {"detail": {"field": "c", "type": "nominal"}, "order": {"field": "s", "type": "quantitative"}}},
        {"data": {"name": "curves"}, "transform": [{"filter": "datum.p === 'aH' && datum.g === 'o'"}],
         "mark": {"type": "line", "color": "black", "strokeWidth": 2.6},
         "encoding": {"detail": {"field": "c", "type": "nominal"}, "order": {"field": "s", "type": "quantitative"}}},
        {"data": {"name": "arrows"}, "transform": [{"filter": "datum.p === 'aH'"}],
         "mark": {"type": "rule", "color": "black", "strokeWidth": 3},
         "encoding": {"x2": {"field": "v2"}}},
        {"data": {"name": "arrows"}, "transform": [{"filter": "datum.p === 'aH'"}],
         "mark": {"type": "point", "shape": "M0,0L2,-0.5L2,0.5Z", "filled": true, "color": "black", "size": 260, "opacity": 1},
         "encoding": {"x": {"field": "v2", "type": "quantitative"}}},
        {"data": {"name": "marks"}, "transform": [{"filter": "datum.p === 'aH'"}],
         "mark": {"type": "text", "font": "DejaVu Sans", "fontWeight": "bold", "fontSize": 37, "angle": 270, "align": "center", "baseline": "middle", "color": "black"},
         "encoding": {"text": {"field": "t"}}}
      ]
    }
  ]
}
